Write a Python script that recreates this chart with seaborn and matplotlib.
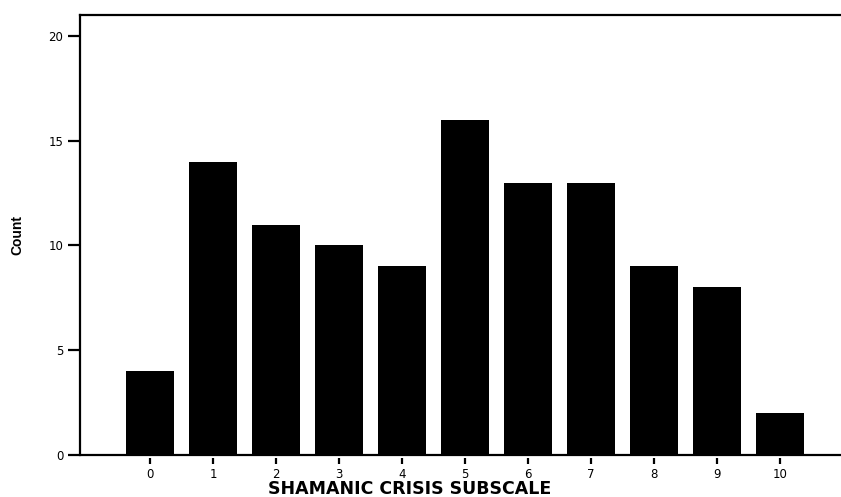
import matplotlib
matplotlib.use("Agg")
import matplotlib.pyplot as plt
import seaborn as sns
import pandas as pd

scores = [0, 1, 2, 3, 4, 5, 6, 7, 8, 9, 10]
counts = [4, 14, 11, 10, 9, 16, 13, 13, 9, 8, 2]
y_ticks = [0, 5, 10, 15, 20]

sns.set_theme(style="white")
plt.rcParams['font.family'] = ['DejaVu Sans']
for k in ["text.color", "axes.labelcolor", "xtick.color", "ytick.color", "axes.edgecolor"]:
    plt.rcParams[k] = "black"

df = pd.DataFrame({"score": [str(s) for s in scores], "count": counts})

fig = plt.figure(figsize=(8.41, 4.97), dpi=100)
ax = fig.add_axes([80/841, 42/497, 1 - 80/841, (455-15)/497])

sns.barplot(data=df, x="score", y="count", color="black", width=0.76,
            saturation=1, ax=ax, edgecolor="black", linewidth=0)

ax.set_xlim(-1.11, 10.97)
ax.set_ylim(0, 21)
ax.set_yticks(y_ticks)
ax.set_yticklabels([str(t) for t in y_ticks])

ax.spines["right"].set_visible(False)
for s in ["left", "top", "bottom"]:
    ax.spines[s].set_color("black")
    ax.spines[s].set_linewidth(1.6)
ax.spines["bottom"].set_visible(False)
ax.axhline(0, color="black", linewidth=1.6, clip_on=False, zorder=5)
ax.spines["bottom"].set_position(("outward", 2))

ax.tick_params(axis="y", direction="out", length=9, width=1.6, color="black",
               labelsize=8.5, pad=3, left=True, labelcolor="black")
ax.tick_params(axis="x", direction="out", length=4, width=1.6, color="black",
               labelsize=8.5, pad=3, bottom=True, labelcolor="black")

ax.set_xlabel("SHAMANIC CRISIS SUBSCALE", fontsize=12.5, fontweight="bold",
              family="DejaVu Sans", color="black")
ax.set_ylabel("Count", fontsize=10, fontweight="bold",
              family="Liberation Sans", color="black")
ax.xaxis.set_label_coords((410-80)/761, -25/440)
ax.yaxis.set_label_coords(-56/761, 0.5)
ax.grid(False)

fig.savefig("out.png", dpi=100)
